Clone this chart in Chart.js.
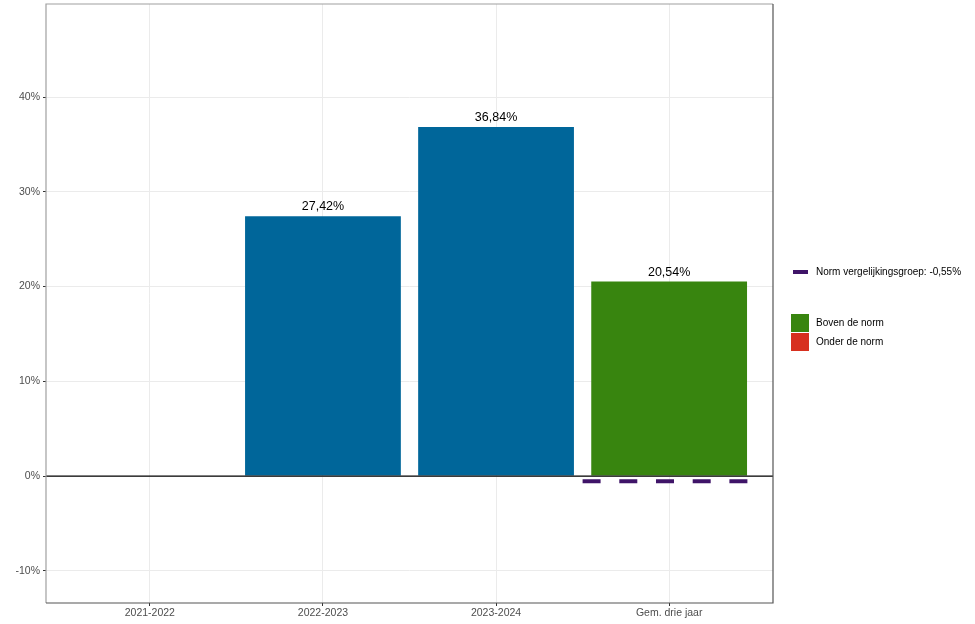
<!DOCTYPE html>
<html>
<head>
<meta charset="utf-8">
<script src="https://cdn.jsdelivr.net/npm/chart.js@4/dist/chart.umd.min.js"></script>
<style>
html,body{margin:0;padding:0;background:#fff;}
#wrap{position:relative;width:975px;height:624px;}
</style>
</head>
<body>
<div id="wrap"><canvas id="c" width="975" height="624"></canvas></div>
<script>
const categories = ['2021-2022', '2022-2023', '2023-2024', 'Gem. drie jaar'];
const values = [null, 27.42, 36.84, 20.54];
const valueLabels = ['', '27,42%', '36,84%', '20,54%'];
const barColors = ['#00669a', '#00669a', '#00669a', '#38850f'];
const normValue = -0.55;
const normLabel = 'Norm vergelijkingsgroep: -0,55%';
const legendBoxes = [['Boven de norm', '#38850f'], ['Onder de norm', '#d7301f']];
const yTicks = [-10, 0, 10, 20, 30, 40];

const FONT = '"Liberation Sans", Arial, sans-serif';

const barData = categories.map((c, i) => ({x: i + 1, y: values[i]}));
const normData = [{x: 3.5, y: normValue}, {x: 4.5, y: normValue}];

const overlay = {
  id: 'overlay',
  afterDatasetsDraw(chart) {
    const {ctx, chartArea: a, scales: {x, y}} = chart;
    ctx.save();
    // zero line
    ctx.strokeStyle = '#000';
    ctx.lineWidth = 1.2;
    const y0 = y.getPixelForValue(0);
    ctx.beginPath(); ctx.moveTo(a.left, y0); ctx.lineTo(a.right, y0); ctx.stroke();
    // value labels
    ctx.fillStyle = '#000';
    ctx.font = '12.5px ' + FONT;
    ctx.textAlign = 'center';
    ctx.textBaseline = 'bottom';
    values.forEach((v, i) => {
      if (v === null) return;
      ctx.fillText(valueLabels[i], x.getPixelForValue(i + 1), y.getPixelForValue(v) - 3);
    });
    ctx.restore();
  },
  afterDraw(chart) {
    const {ctx, chartArea: a} = chart;
    ctx.save();
    // panel border
    ctx.lineWidth = 1.2;
    ctx.strokeStyle = '#a0a0a0';
    ctx.beginPath(); ctx.moveTo(a.left, a.bottom); ctx.lineTo(a.left, a.top); ctx.lineTo(a.right, a.top); ctx.stroke();
    ctx.strokeStyle = '#555';
    ctx.beginPath(); ctx.moveTo(a.right, a.top); ctx.lineTo(a.right, a.bottom); ctx.lineTo(a.left, a.bottom); ctx.stroke();
    // legend
    ctx.font = '10px ' + FONT;
    ctx.textAlign = 'left';
    ctx.textBaseline = 'middle';
    ctx.fillStyle = '#000';
    ctx.strokeStyle = '#3f1468';
    ctx.lineWidth = 4;
    ctx.beginPath(); ctx.moveTo(793, 272); ctx.lineTo(808, 272); ctx.stroke();
    ctx.fillText(normLabel, 816, 272);
    legendBoxes.forEach((b, i) => {
      const top = 314 + i * 19;
      ctx.fillStyle = b[1];
      ctx.fillRect(791, top, 18, 18);
      ctx.fillStyle = '#000';
      ctx.fillText(b[0], 816, top + 9);
    });
    ctx.restore();
  }
};

new Chart(document.getElementById('c'), {
  data: {
    datasets: [
      {
        type: 'bar',
        data: barData,
        backgroundColor: barColors,
        borderWidth: 0,
        categoryPercentage: 1,
        barPercentage: 0.9,
        order: 2
      },
      {
        type: 'line',
        data: normData,
        borderColor: '#3f1468',
        borderWidth: 4,
        borderDash: [18, 18.7],
        borderCapStyle: 'butt',
        pointRadius: 0,
        fill: false,
        order: 1
      }
    ]
  },
  options: {
    responsive: false,
    animation: false,
    layout: {padding: {left: 0, top: 4, right: 202, bottom: 0}},
    plugins: {legend: {display: false}, tooltip: {enabled: false}},
    scales: {
      x: {
        type: 'linear',
        offset: false,
        min: 0.4,
        max: 4.6,
        afterBuildTicks(s) { s.ticks = categories.map((c, i) => ({value: i + 1})); },
        afterFit(s) { s.height = 21; s.paddingLeft = 0; s.paddingRight = 0; },
        ticks: {
          callback: (v) => categories[Math.round(v) - 1] || '',
          color: '#4d4d4d',
          font: {family: FONT, size: 10.5},
          padding: 1,
          maxRotation: 0,
          autoSkip: false
        },
        grid: {offset: false, color: '#ebebeb', lineWidth: 1, tickLength: 3, tickColor: '#333', drawTicks: true},
        border: {display: false}
      },
      y: {
        type: 'linear',
        min: -13.4,
        max: 49.82,
        afterBuildTicks(s) { s.ticks = yTicks.map(v => ({value: v})); },
        afterFit(s) { s.width = 46; s.paddingTop = 0; s.paddingBottom = 0; },
        ticks: {
          callback: (v) => v + '%',
          color: '#4d4d4d',
          font: {family: FONT, size: 10.5},
          padding: 3
        },
        grid: {color: '#ebebeb', lineWidth: 1, tickLength: 3, tickColor: '#333', drawTicks: true},
        border: {display: false}
      }
    }
  },
  plugins: [overlay]
});
</script>
</body>
</html>
